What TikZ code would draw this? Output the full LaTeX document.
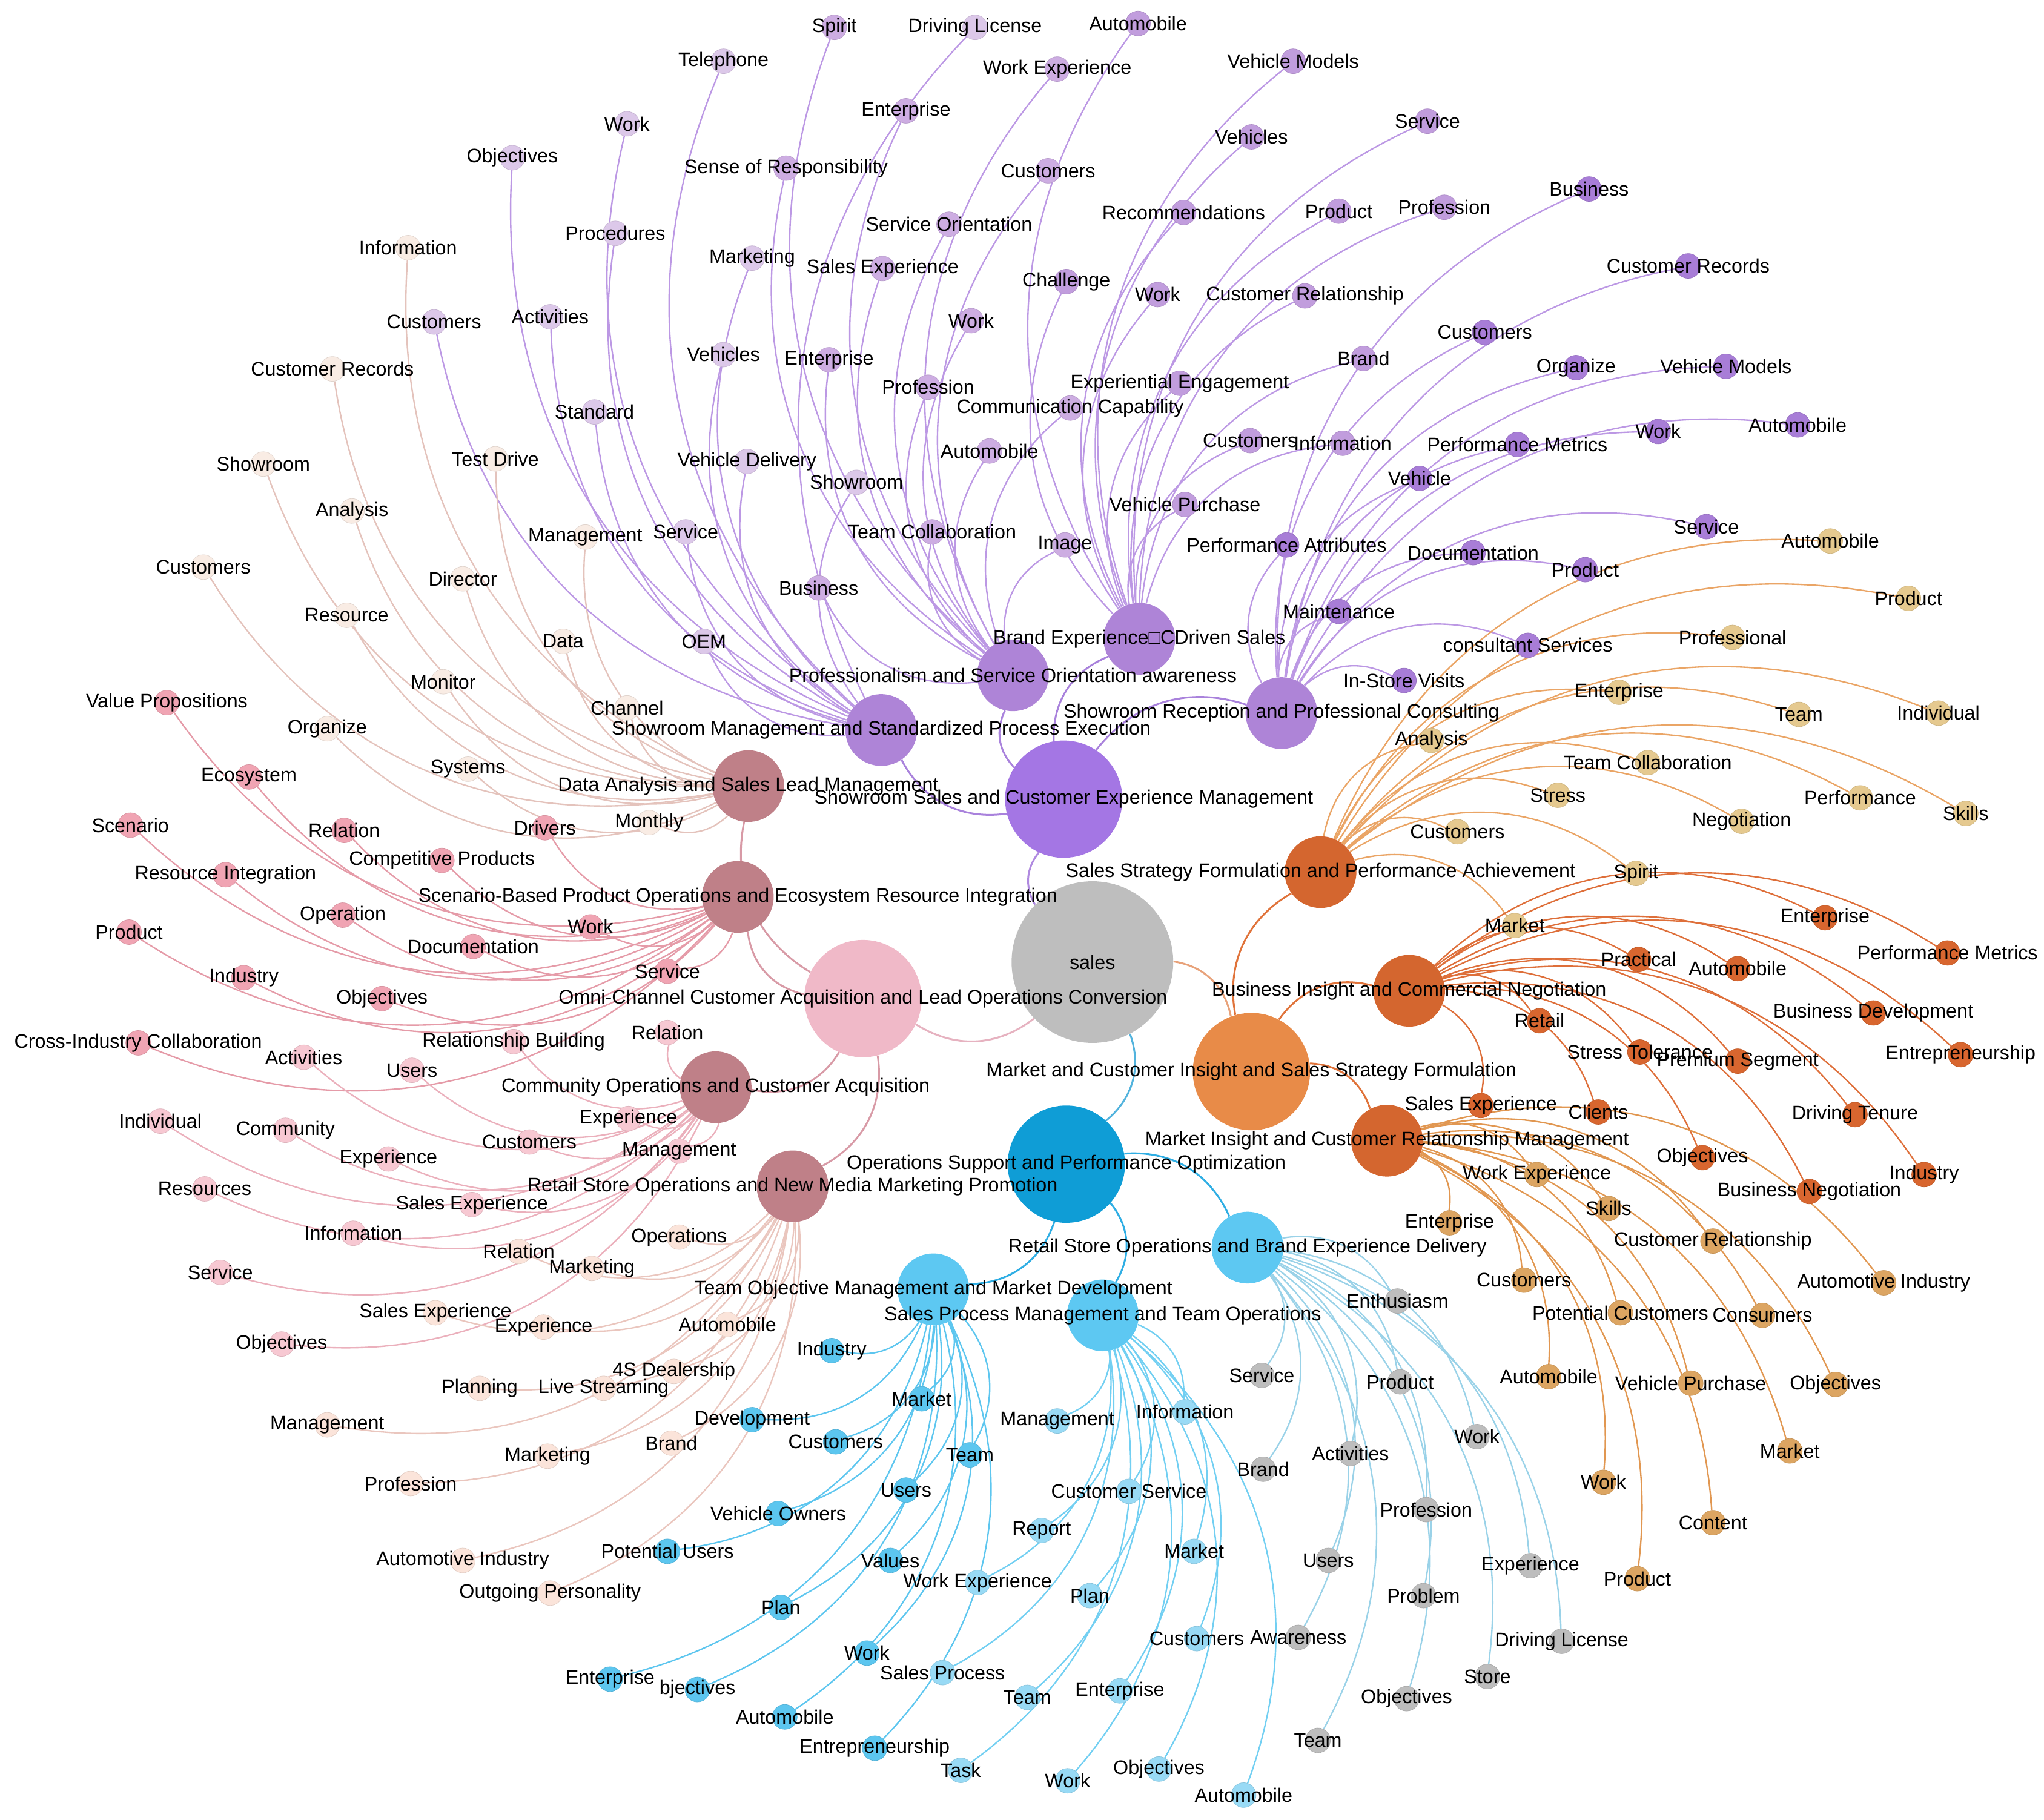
\documentclass[tikz,border=0pt]{standalone}
\usepackage{fontspec}
\setmainfont{Liberation Sans}
\pgfdeclarelayer{edgelayer}
\pgfdeclarelayer{labellayer}
\pgfsetlayers{edgelayer,main,labellayer}
\definecolor{cRoot}{HTML}{BEBEBE}
\definecolor{cPurA}{HTML}{A476E4}
\definecolor{cPurB}{HTML}{AE84D7}
\definecolor{lSM}{HTML}{DCC8E9}
\definecolor{lPS}{HTML}{CDADE2}
\definecolor{lBE}{HTML}{C19DDD}
\definecolor{lSR}{HTML}{A87DD7}
\definecolor{cPinkA}{HTML}{F0B9C8}
\definecolor{cPinkB}{HTML}{BF8088}
\definecolor{lDA}{HTML}{F9ECE4}
\definecolor{lSC}{HTML}{F0A4B3}
\definecolor{lCO}{HTML}{F7C8D2}
\definecolor{lRN}{HTML}{FBE4DA}
\definecolor{cOrA}{HTML}{E88B48}
\definecolor{cOrB}{HTML}{D4662F}
\definecolor{lSS}{HTML}{E5C98F}
\definecolor{lBI}{HTML}{D8662F}
\definecolor{lMI}{HTML}{DCA562}
\definecolor{cBlA}{HTML}{0F9DD6}
\definecolor{cBlB}{HTML}{5DC8F2}
\definecolor{lTO}{HTML}{5CC6EF}
\definecolor{lSP}{HTML}{98DAF5}
\definecolor{lRB}{HTML}{BDBDBD}
\definecolor{ePur}{HTML}{BC98E4}
\definecolor{eDA}{HTML}{E4C3BC}
\definecolor{eSC}{HTML}{E59BA8}
\definecolor{eCO}{HTML}{EBB0BC}
\definecolor{eRN}{HTML}{EAC6BE}
\definecolor{eSS}{HTML}{EAA566}
\definecolor{eBI}{HTML}{DE6F3A}
\definecolor{eMI}{HTML}{E19751}
\definecolor{eTO}{HTML}{5DC6EF}
\definecolor{eSP}{HTML}{72CFF2}
\definecolor{eRB}{HTML}{9AD2E8}
\definecolor{hPur}{HTML}{A982DC}
\definecolor{hPink}{HTML}{D89AA6}
\definecolor{hOr}{HTML}{E0733A}
\definecolor{hBl}{HTML}{2FAEE4}
\definecolor{hSalesPur}{HTML}{B08AE0}
\definecolor{hSalesPink}{HTML}{E6B2C0}
\definecolor{hSalesOr}{HTML}{E8A27A}
\definecolor{hSalesBl}{HTML}{52B3DD}
\tikzset{
  rootnode/.style={circle, inner sep=0pt, minimum size=124pt, fill=cRoot},
  lvlone/.style={circle, inner sep=0pt, minimum size=90pt, fill=#1},
  lvltwo/.style={circle, inner sep=0pt, minimum size=55pt, fill=#1},
  leaf/.style={circle, inner sep=0pt, minimum size=19pt, fill=#1, draw=#1!90!black, line width=0.35pt},
  lbl/.style={inner sep=0pt, font=\fontsize{15}{18}\selectfont, text=black},
  ed/.style={draw=#1, line width=1.1pt},
  hed/.style={draw=#1, line width=1.4pt},
}
\newcommand\leafgroup[4]{%
  \foreach \i/\x/\y/\txt in {#4}{%
    \node[leaf=#2] (\i) at (\x,\y) {};
    \begin{pgfonlayer}{edgelayer}\draw[ed=#3] (#1) to[bend left=35] (\i);\end{pgfonlayer}
    \begin{pgfonlayer}{labellayer}\node[lbl] (\i-t) at (\i) {\txt};\end{pgfonlayer}
  }}
\begin{document}
\begin{tikzpicture}[x=1pt,y=-1pt]
\useasboundingbox (0,0) rectangle (1568,1396);
% hubs
\node[rootnode] (sales) at (838,738) {};
\node[lvlone=cPurA] (SSC) at (816,613) {};
\node[lvlone=cPinkA] (OMNI) at (662,766) {};
\node[lvlone=cOrA] (MCI) at (960,822) {};
\node[lvlone=cBlA] (OPS) at (818,893) {};
\node[lvltwo=cPurB] (SM) at (676,560) {};
\node[lvltwo=cPurB] (PS) at (777,518) {};
\node[lvltwo=cPurB] (BE) at (874,490) {};
\node[lvltwo=cPurB] (SR) at (983,547) {};
\node[lvltwo=cPinkB] (DA) at (574,603) {};
\node[lvltwo=cPinkB] (SC) at (566,688) {};
\node[lvltwo=cPinkB] (CO) at (549,834) {};
\node[lvltwo=cPinkB] (RN) at (608,910) {};
\node[lvltwo=cOrB] (SS) at (1013,669) {};
\node[lvltwo=cOrB] (BI) at (1081,760) {};
\node[lvltwo=cOrB] (MI) at (1064,875) {};
\node[lvltwo=cBlB] (RB) at (957,957) {};
\node[lvltwo=cBlB] (TO) at (716,989) {};
\node[lvltwo=cBlB] (SP) at (846,1009) {};
% hierarchy edges
\begin{pgfonlayer}{edgelayer}
\draw[hed=hSalesPur] (sales) to[bend left=35] (SSC);
\draw[hed=hSalesPink] (sales) to[bend left=35] (OMNI);
\draw[hed=hSalesOr] (sales) to[bend left=35] (MCI);
\draw[hed=hSalesBl] (sales) to[bend left=35] (OPS);
\foreach \h in {SM,PS,BE,SR} \draw[hed=hPur] (SSC) to[bend left=35] (\h);
\foreach \h in {DA,SC,CO,RN} \draw[hed=hPink] (OMNI) to[bend left=35] (\h);
\foreach \h in {SS,BI,MI} \draw[hed=hOr] (MCI) to[bend left=35] (\h);
\foreach \h in {RB,TO,SP} \draw[hed=hBl] (OPS) to[bend left=35] (\h);
\end{pgfonlayer}
% leaves
\leafgroup{SM}{lSM}{ePur}{sm1/393/121/Objectives, sm2/481/95/Work, sm3/472/179/Procedures, sm4/555/47/Telephone, sm5/333/247/Customers, sm6/422/243/Activities, sm7/456/316/Standard, sm8/577/198/Marketing, sm9/555/272/Vehicles, sm10/573/354/Vehicle Delivery, sm11/526/408/Service, sm12/540/492/OEM, sm13/748/21/Driving License, sm15/657/370/Showroom}
\leafgroup{PS}{lPS}{ePur}{ps1/640/21/Spirit, ps2/695/85/Enterprise, ps3/728/172/Service Orientation, ps4/677/206/Sales Experience, ps5/745/246/Work, ps6/636/276/Enterprise, ps7/712/297/Profession, ps8/759/346/Automobile, ps9/715/408/Team Collaboration, ps10/628/451/Business, ps11/817/418/Image, ps12/821/313/Communication Capability, ps13/811/53/Work Experience, ps14/804/131/Customers, ps15/603/129/Sense of Responsibility}
\leafgroup{BE}{lBE}{ePur}{be1/873/18/Automobile, be2/818/216/Challenge, be3/992/47/Vehicle Models, be4/960/105/Vehicles, be5/1095/93/Service, be6/908/163/Recommendations, be7/1027/162/Product, be8/1108/159/Profession, be9/888/226/Work, be10/1001/227/Customer Relationship, be11/905/294/Experiential Engagement, be12/959/338/Customers, be13/909/387/Vehicle Purchase, be14/1046/275/Brand, be15/1030/340/Information}
\leafgroup{SR}{lSR}{ePur}{sr1/1219/145/Business, sr2/1295/204/Customer Records, sr3/1139/255/Customers, sr4/1209/282/Organize, sr5/1324/281/Vehicle Models, sr6/1164/341/Performance Metrics, sr7/1272/331/Work, sr8/1379/326/Automobile, sr9/1089/367/Vehicle, sr10/987/418/Performance Attributes, sr11/1130/424/Documentation, sr12/1309/404/Service, sr13/1216/437/Product, sr14/1027/469/Maintenance, sr15/1172/495/consultant Services, sr16/1077/522/In-Store Visits}
\leafgroup{DA}{lDA}{eDA}{da1/313/190/Information, da2/255/283/Customer Records, da3/202/356/Showroom, da4/270/392/Analysis, da5/156/435/Customers, da6/266/472/Resource, da7/355/444/Director, da8/380/352/Test Drive, da9/449/412/Management, da10/432/492/Data, da11/340/523/Monitor, da12/251/559/Organize, da13/359/590/Systems, da14/481/543/Channel, da15/498/631/Monthly}
\leafgroup{SC}{lSC}{eSC}{sc1/128/539/Value Propositions, sc2/191/596/Ecosystem, sc3/100/633/Scenario, sc4/264/637/Relation, sc5/339/660/Competitive Products, sc6/173/671/Resource Integration, sc7/263/702/Operation, sc8/99/715/Product, sc9/363/726/Documentation, sc10/187/750/Industry, sc11/293/766/Objectives, sc12/106/800/Cross-Industry Collaboration, sc13/418/635/Drivers, sc14/453/711/Work, sc15/512/745/Service}
\leafgroup{CO}{lCO}{eCO}{co1/512/792/Relation, co2/394/799/Relationship Building, co3/233/811/Activities, co4/316/821/Users, co5/123/860/Individual, co6/219/867/Community, co7/298/889/Experience, co8/406/876/Customers, co9/482/858/Experience, co10/157/912/Resources, co11/362/924/Sales Experience, co12/271/946/Information, co13/169/976/Service, co14/216/1031/Objectives, co15/521/883/Management}
\leafgroup{RN}{lRN}{eRN}{rn1/398/960/Relation, rn2/521/949/Operations, rn3/454/973/Marketing, rn4/334/1007/Sales Experience, rn5/417/1018/Experience, rn6/558/1016/Automobile, rn7/517/1052/4S Dealership, rn8/368/1065/Planning, rn9/463/1065/Live Streaming, rn10/251/1093/Management, rn11/420/1117/Marketing, rn12/515/1107/Brand, rn13/315/1138/Profession, rn14/355/1197/Automotive Industry, rn15/422/1222/Outgoing Personality}
\leafgroup{SS}{lSS}{eSS}{ss1/1404/415/Automobile, ss2/1464/459/Product, ss3/1329/489/Professional, ss4/1242/531/Enterprise, ss5/1380/548/Team, ss6/1487/547/Individual, ss7/1098/568/Analysis, ss8/1264/585/Team Collaboration, ss9/1195/610/Stress, ss10/1427/612/Performance, ss11/1508/624/Skills, ss12/1336/630/Negotiation, ss13/1118/638/Customers, ss14/1255/670/Spirit, ss15/1162/710/Market}
\leafgroup{BI}{lBI}{eBI}{bi1/1400/704/Enterprise, bi2/1494/731/Performance Metrics, bi3/1257/736/Practical, bi4/1333/743/Automobile, bi5/1437/777/Business Development, bi6/1181/783/Retail, bi7/1504/809/Entrepreneurship, bi8/1258/807/Stress Tolerance, bi9/1333/814/Premium Segment, bi10/1226/853/Clients, bi11/1423/855/Driving Tenure, bi12/1306/888/Objectives, bi13/1476/901/Industry, bi14/1388/914/Business Negotiation, bi15/1136/848/Sales Experience}
\leafgroup{MI}{lMI}{eMI}{mi1/1179/901/Work Experience, mi2/1234/927/Skills, mi3/1112/938/Enterprise, mi4/1314/952/Customer Relationship, mi5/1169/982/Customers, mi6/1445/984/Automotive Industry, mi7/1243/1007/Potential Customers, mi8/1352/1009/Consumers, mi9/1188/1056/Automobile, mi10/1297/1061/Vehicle Purchase, mi11/1408/1062/Objectives, mi12/1373/1113/Market, mi13/1230/1137/Work, mi14/1314/1168/Content, mi15/1256/1211/Product}
\leafgroup{RB}{lRB}{eRB}{rb1/1072/998/Enthusiasm, rb2/968/1055/Service, rb3/1074/1060/Product, rb4/1133/1102/Work, rb5/1036/1115/Activities, rb6/969/1127/Brand, rb7/1094/1158/Profession, rb8/1174/1201/Experience, rb9/1019/1197/Users, rb10/1092/1224/Problem, rb11/996/1256/Awareness, rb12/1198/1259/Driving License, rb13/1141/1286/Store, rb14/1079/1303/Objectives, rb15/1011/1335/Team}
\leafgroup{TO}{lTO}{eTO}{to1/638/1036/Industry, to2/707/1073/Market, to3/577/1089/Development, to4/641/1106/Customers, to5/744/1116/Team, to6/695/1143/Users, to7/597/1161/Vehicle Owners, to8/512/1190/Potential Users, to9/683/1197/Values, to10/599/1233/Plan, to11/665/1268/Work, to12/468/1288/Enterprise, to13/535/1296/bjectives, to14/602/1317/Automobile, to15/671/1341/Entrepreneurship}
\leafgroup{SP}{lSP}{eSP}{sp1/811/1090/Management, sp2/909/1083/Information, sp3/866/1144/Customer Service, sp4/799/1174/Report, sp5/750/1214/Work Experience, sp6/916/1190/Market, sp7/836/1224/Plan, sp8/918/1257/Customers, sp9/723/1283/Sales Process, sp10/788/1302/Team, sp11/859/1297/Enterprise, sp12/737/1358/Task, sp13/819/1366/Work, sp14/889/1357/Objectives, sp15/954/1377/Automobile}
% hub labels
\begin{pgfonlayer}{labellayer}
\node[lbl] (sales-t) at (sales) {sales};
\node[lbl] (SSC-t) at (SSC) {Showroom Sales and Customer Experience Management};
\node[lbl] (OMNI-t) at (OMNI) {Omni-Channel Customer Acquisition and Lead Operations Conversion};
\node[lbl] (MCI-t) at (MCI) {Market and Customer Insight and Sales Strategy Formulation};
\node[lbl] (OPS-t) at (OPS) {Operations Support and Performance Optimization};
\node[lbl] (SM-t) at (SM) {Showroom Management and Standardized Process Execution};
\node[lbl] (PS-t) at (PS) {Professionalism and Service Orientation awareness};
\node[lbl] (BE-t) at (BE) {Brand Experience□CDriven Sales};
\node[lbl] (SR-t) at (SR) {Showroom Reception and Professional Consulting};
\node[lbl] (DA-t) at (DA) {Data Analysis and Sales Lead Management};
\node[lbl] (SC-t) at (SC) {Scenario-Based Product Operations and Ecosystem Resource Integration};
\node[lbl] (CO-t) at (CO) {Community Operations and Customer Acquisition};
\node[lbl] (RN-t) at (RN) {Retail Store Operations and New Media Marketing Promotion};
\node[lbl] (SS-t) at (SS) {Sales Strategy Formulation and Performance Achievement};
\node[lbl] (BI-t) at (BI) {Business Insight and Commercial Negotiation};
\node[lbl] (MI-t) at (MI) {Market Insight and Customer Relationship Management};
\node[lbl] (RB-t) at (RB) {Retail Store Operations and Brand Experience Delivery};
\node[lbl] (TO-t) at (TO) {Team Objective Management and Market Development};
\node[lbl] (SP-t) at (SP) {Sales Process Management and Team Operations};
\end{pgfonlayer}
\end{tikzpicture}
\end{document}
